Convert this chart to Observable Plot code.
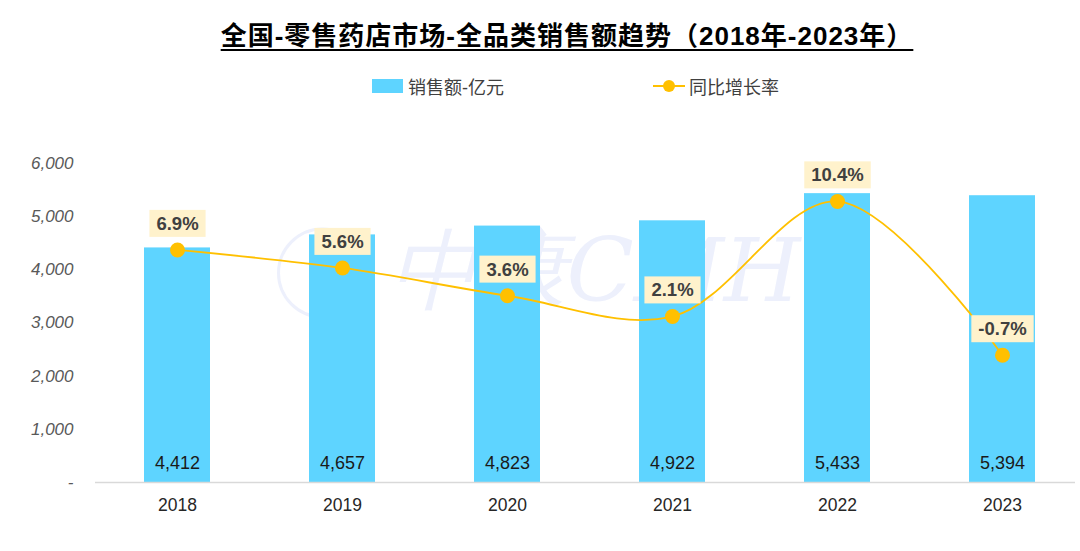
<!DOCTYPE html>
<html><head><meta charset="utf-8">
<script src="https://cdn.jsdelivr.net/npm/d3@7"></script>
<script src="https://cdn.jsdelivr.net/npm/@observablehq/plot@0.6"></script>
<style>
body{margin:0;background:#fff;font-family:"Liberation Sans","Noto Sans CJK SC",sans-serif;}
#title{height:60px;display:flex;align-items:center;justify-content:center;}
#title span{font-size:26px;letter-spacing:1px;font-weight:bold;color:#000;text-decoration:underline;text-underline-offset:4px;text-decoration-thickness:2px;font-family:"Liberation Sans","Noto Sans CJK SC",sans-serif;position:relative;top:3px;left:27px;}
#legend{height:50px;position:relative;font-size:18px;color:#404040;}
.lg{position:absolute;top:13px;display:flex;align-items:center;}
</style></head><body>
<div id="title"><span>全国-零售药店市场-全品类销售额趋势（2018年-2023年）</span></div>
<div id="legend">
 <div class="lg" style="left:372px"><svg width="32" height="16"><rect x="0" y="1" width="31" height="14" fill="#5ED4FF"/></svg><span style="margin-left:4px">销售额-亿元</span></div>
 <div class="lg" style="left:653px"><svg width="33" height="16"><line x1="0" y1="8" x2="32" y2="8" stroke="#FFC000" stroke-width="2"/><circle cx="16" cy="8" r="6" fill="#FFC000"/></svg><span style="margin-left:3px">同比增长率</span></div>
</div>
<div id="chart"></div>
<script>
const years = ["2018","2019","2020","2021","2022","2023"];
const sales = [4412, 4657, 4823, 4922, 5433, 5394];
const growth = [6.9, 5.6, 3.6, 2.1, 10.4, -0.7];
const yTicks = [0, 1000, 2000, 3000, 4000, 5000, 6000];

// secondary axis mapping of growth rate (%) onto the sales scale
const rateToY = r => 2575 + 260.7 * r;

const data = years.map((y, i) => ({year: y, sales: sales[i], growth: growth[i], gy: rateToY(growth[i])}));

const chart = Plot.plot({
  width: 1080,
  height: 441,
  marginLeft: 95,
  marginRight: 5,
  marginTop: 53,
  marginBottom: 69,
  style: {fontFamily: '"Liberation Sans","Noto Sans CJK SC",sans-serif', background: "#fff"},
  x: {domain: years, range: [95, 1085], paddingInner: 0.6, paddingOuter: 0.3, label: null},
  y: {domain: [0, 6000], label: null},
  marks: [
    Plot.text(["中康CMH"], {frameAnchor: "middle", dx: 10, dy: -50, fontSize: 88, fontStyle: "italic", fontFamily: "DejaVu Serif", fill: "#EDF0FC"}),
    Plot.dot([0], {frameAnchor: "middle", dx: -263, dy: -50, r: 44, stroke: "#EDF0FC", strokeWidth: 3, fill: "none"}),
    Plot.axisY({ticks: yTicks, tickSize: 0, tickPadding: 22, fontSize: 17, fontStyle: "italic", fill: "#595959", tickFormat: d => d === 0 ? "-" : d3.format(",")(d), label: null}),
    Plot.axisX({tickSize: 0, tickPadding: 16, fontSize: 17.5, fill: "#262626", label: null}),
    Plot.barY(data, {x: "year", y: "sales", fill: "#5ED4FF"}),
    Plot.ruleY([0], {stroke: "#D9D9D9", strokeWidth: 1.5}),
    Plot.text(data, {x: "year", y: 0, dy: -19, text: d => d3.format(",")(d.sales), fontSize: 18, fill: "#1a1a1a"}),
    Plot.line(data, {x: "year", y: "gy", stroke: "#FFC000", strokeWidth: 1.8, curve: "catmull-rom"}),
    Plot.dot(data, {x: "year", y: "gy", r: 7.5, fill: "#FFC000"}),
    Plot.text(data, {x: "year", y: "gy", dy: -26, text: d => d.growth.toFixed(1) + "%", fontSize: 18.5, fontWeight: "bold", fill: "#404040", className: "glabel"})
  ]
});
document.getElementById("chart").appendChild(chart);

// cream background boxes behind growth labels
const svg = d3.select(chart);
svg.selectAll("g.glabel text").each(function() {
  const b = this.getBBox();
  const t = this.getAttribute("transform");
  const r = document.createElementNS("http://www.w3.org/2000/svg", "rect");
  r.setAttribute("x", b.x - 7);
  r.setAttribute("y", b.y - 3);
  r.setAttribute("width", b.width + 14);
  r.setAttribute("height", b.height + 6);
  r.setAttribute("fill", "#FFF2CC");
  if (t) r.setAttribute("transform", t);
  this.parentNode.insertBefore(r, this);
});
</script>
</body></html>
